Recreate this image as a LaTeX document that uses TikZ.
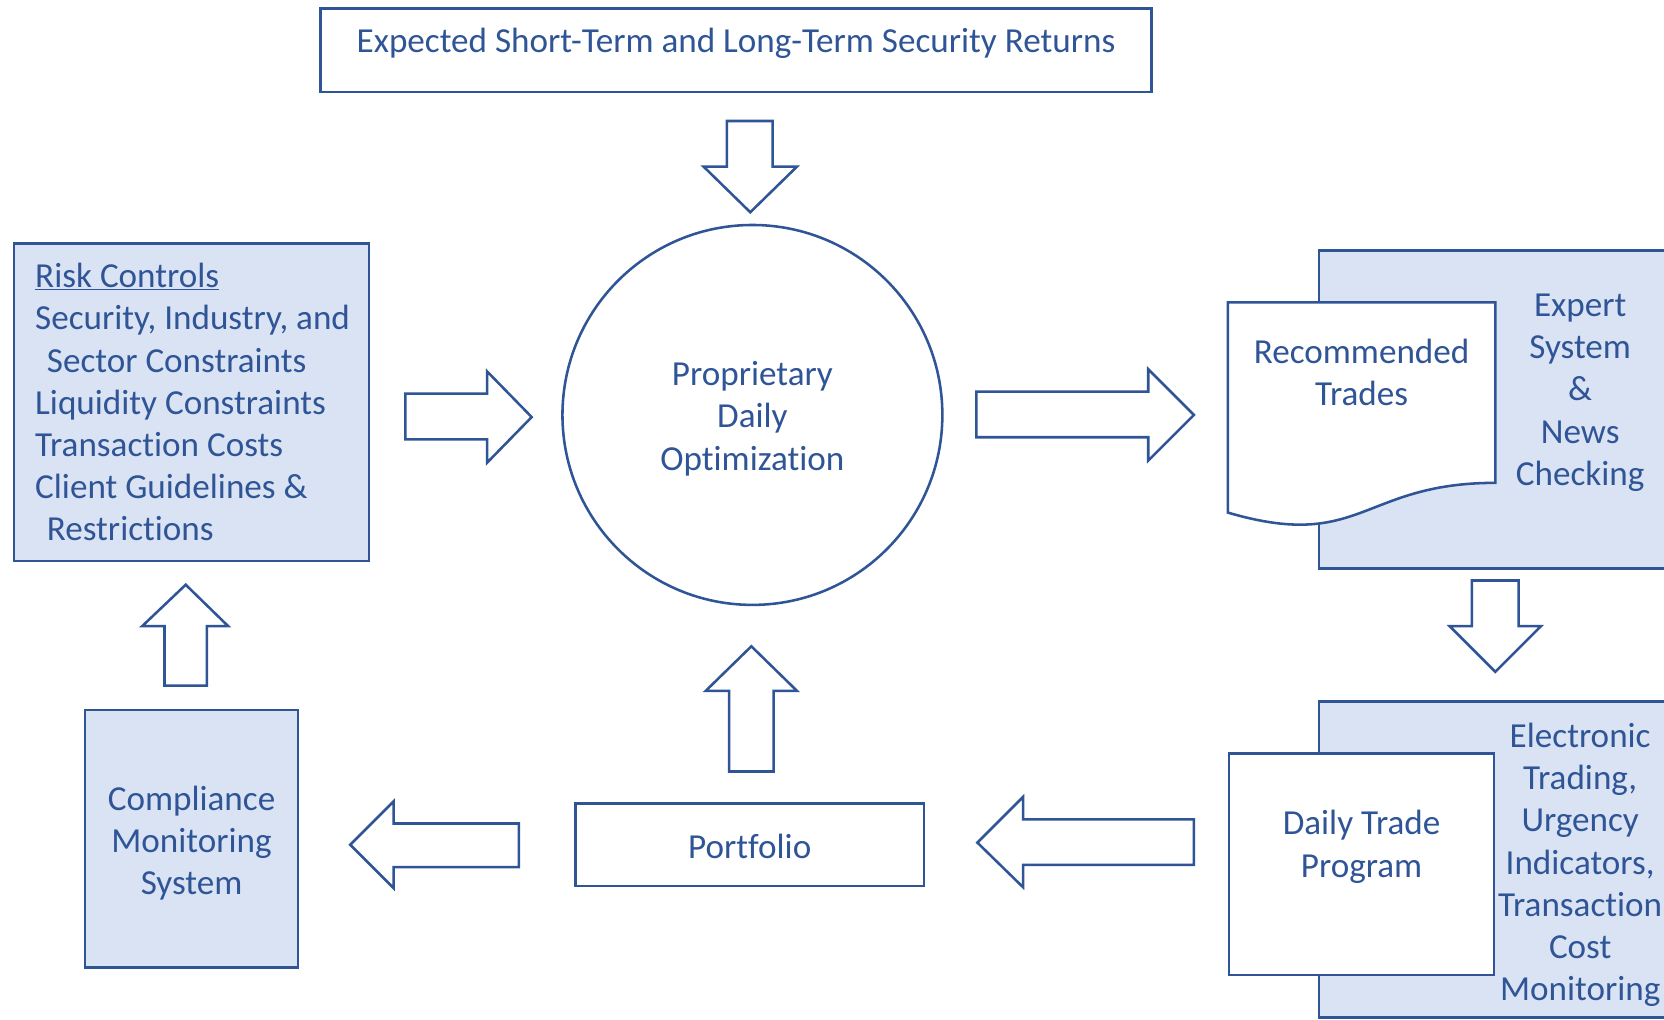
\documentclass[tikz,border=0pt]{standalone}
\usepackage{fontspec}
\setmainfont[Ligatures=NoCommon]{Carlito}
\definecolor{edge}{HTML}{2F5597}
\definecolor{shade}{HTML}{DAE3F3}
\begin{document}
\begin{tikzpicture}[x=1pt,y=-1pt,
  txt/.style={text=edge, font=\fontsize{33.1}{39.8}\selectfont, inner sep=0pt, align=center},
  box/.style={draw=edge, line width=2.4pt, inner sep=0pt, fill=white},
  shaded/.style={box, fill=shade},
  blockarrow/.style={draw=edge, line width=2.4pt, fill=white, line join=miter}]
\useasboundingbox (0,0) rectangle (1568,961);

% top box
\node[box, minimum width=782.6pt, minimum height=78.6pt] (top) at (693.5,47.5) {};
\node[txt] (toptxt) at (693.5,40.5) {Expected Short-Term and Long-Term Security Returns};

% circle
\node[box, circle, minimum size=358pt, draw=edge, line width=2.4pt] (opt) at (709,391) {};
\node[txt] (opttxt) at (709,394.5) {Proprietary\\Daily\\Optimization};

% risk box
\node[shaded, minimum width=334.6pt, minimum height=299.6pt] (risk) at (180.5,379) {};
\node[txt, align=left, anchor=west] (risktxt) at (33,379) {\underline{Risk Controls}\\Security, Industry, and\\\hspace*{11pt}Sector Constraints\\Liquidity Constraints\\Transaction Costs\\Client Guidelines \&\\\hspace*{11pt}Restrictions};

% compliance
\node[shaded, minimum width=200.6pt, minimum height=242.6pt] (comp) at (180.5,790.5) {};
\node[txt] (comptxt) at (180.5,794.5) {Compliance\\Monitoring\\System};

% portfolio
\node[box, minimum width=328.6pt, minimum height=77.6pt] (port) at (706.5,796) {};
\node[txt] (porttxt) at (706.5,797.5) {Portfolio};

% expert system
\node[shaded, minimum width=337pt, minimum height=299.6pt] (expert) at (1411.5,386) {};
\filldraw[draw=edge, fill=white, line width=2.4pt, line join=miter] (1157,285) -- (1409,285) -- (1409,455) .. controls (1283,455) and (1283,520) .. (1157,483) -- cycle;
\node[txt] (rec) at (1283,351) {Recommended\\Trades};
\node[txt] (experttxt) at (1489,370) {Expert\\System\\\&\\News\\Checking};

% electronic trading
\node[shaded, minimum width=337pt, minimum height=297.6pt] (elec) at (1411.5,810) {};
\node[box, minimum width=249.6pt, minimum height=208.6pt] (daily) at (1283,814.5) {};
\node[txt] (dailytxt) at (1283,798) {Daily Trade\\Program};
\node[txt] (electxt) at (1489,815) {Electronic\\Trading,\\Urgency\\Indicators,\\Transaction\\Cost\\Monitoring};

% block arrows
\draw[blockarrow] (685,114) -- (728,114) -- (728,157) -- (751,157) -- (707,200) -- (663,157) -- (685,157) -- cycle;
\draw[blockarrow] (382,371) -- (459,371) -- (459,350) -- (501,393) -- (459,436) -- (459,414) -- (382,414) -- cycle;
\draw[blockarrow] (920,369) -- (1082,369) -- (1082,348) -- (1125,391) -- (1082,434) -- (1082,412) -- (920,412) -- cycle;
\draw[blockarrow] (1387,547) -- (1431,547) -- (1431,590) -- (1452,590) -- (1409,633) -- (1366,590) -- (1387,590) -- cycle;
\draw[blockarrow] (1125,772) -- (964,772) -- (964,751) -- (921,794) -- (964,836) -- (964,815) -- (1125,815) -- cycle;
\draw[blockarrow] (687,727) -- (687,651) -- (665,651) -- (708,609) -- (751,651) -- (729,651) -- (729,727) -- cycle;
\draw[blockarrow] (489,776) -- (371,776) -- (371,755) -- (330,796) -- (371,837) -- (371,817) -- (489,817) -- cycle;
\draw[blockarrow] (155,646) -- (155,590) -- (134,590) -- (175,551) -- (215,590) -- (195,590) -- (195,646) -- cycle;
\end{tikzpicture}
\end{document}
